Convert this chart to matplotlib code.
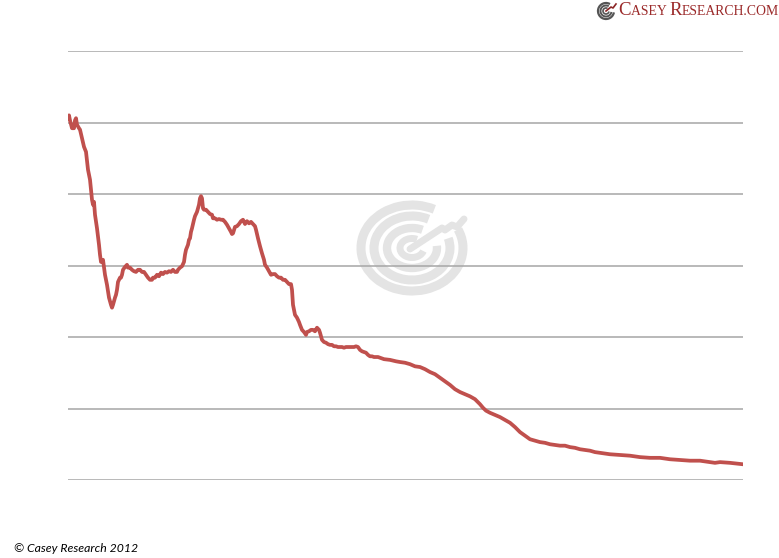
import matplotlib
matplotlib.use("Agg")
import matplotlib.pyplot as plt
import numpy as np
from matplotlib.patches import Arc
from matplotlib.offsetbox import TextArea, HPacker, AnchoredOffsetbox

# ---- data (time index, value) ----
t = [0, 1, 2, 4, 6, 7, 8, 9, 11, 12, 14, 16, 18, 20, 21, 22, 24, 25, 26, 27, 28, 29,
     31, 32, 33, 34, 35, 36, 37, 39, 41, 43, 44, 45, 47, 48, 49, 50, 52, 53, 54, 55,
     57, 59, 60, 62, 64, 66, 68, 70, 72, 74, 76, 78, 80, 82, 84, 85, 87, 89, 91, 93,
     95, 97, 99, 101, 103, 105, 107, 109, 110, 112, 114, 116, 117, 118, 120, 121, 122,
     123, 124, 126, 127, 129, 131, 132, 133, 134, 135, 136, 138, 140, 142, 144, 145,
     147, 149, 151, 153, 155, 157, 159, 161, 163, 164, 165, 167, 169, 171, 173, 175,
     177, 179, 181, 183, 185, 187, 188, 190, 192, 194, 196, 197, 199, 201, 203, 205,
     207, 209, 211, 213, 215, 217, 219, 221, 223, 224, 225, 226, 227, 229, 231, 232,
     234, 236, 238, 239, 241, 243, 245, 247, 249, 251, 252, 254, 256, 258, 260, 262,
     264, 266, 268, 270, 272, 274, 276, 278, 280, 282, 284, 286, 288, 290, 292, 294,
     296, 298, 300, 302, 304, 306, 308, 310, 312, 316, 322, 328, 332, 337, 342, 347,
     352, 357, 362, 367, 372, 377, 382, 387, 392, 397, 402, 407, 412, 415, 418, 422,
     427, 432, 437, 442, 447, 452, 457, 462, 467, 472, 477, 482, 487, 492, 497, 502,
     507, 512, 517, 522, 527, 532, 542, 552, 562, 572, 582, 592, 602, 612, 622, 632,
     642, 647, 652, 662, 675]
values = [50.6, 51.0, 50.3, 49.2, 49.2, 50.3, 50.6, 49.7, 49.2, 49.0, 47.8, 46.6, 45.9,
          43.4, 42.7, 42.0, 39.2, 38.5, 38.9, 37.1, 36.1, 35.2, 32.9, 31.5, 30.5, 30.5,
          30.8, 29.7, 28.7, 27.3, 25.5, 24.5, 24.1, 24.5, 25.5, 25.9, 26.6, 27.7, 28.3,
          28.3, 28.7, 29.4, 29.8, 30.1, 29.7, 29.7, 29.4, 29.2, 29.1, 29.4, 29.4, 29.1,
          29.1, 28.7, 28.3, 28.0, 28.0, 28.3, 28.3, 28.7, 28.5, 29.0, 28.8, 29.1, 29.0,
          29.2, 29.1, 29.4, 29.1, 29.1, 29.4, 29.7, 29.9, 30.5, 31.5, 32.2, 32.9, 33.6,
          33.8, 34.7, 35.2, 36.4, 36.9, 37.5, 38.5, 39.4, 39.7, 39.4, 38.0, 37.8, 37.8,
          37.5, 37.2, 37.1, 36.6, 36.6, 36.4, 36.5, 36.4, 36.4, 36.1, 35.7, 35.2, 34.7,
          34.4, 34.5, 35.4, 35.5, 35.8, 36.2, 36.4, 35.8, 36.2, 35.9, 36.1, 35.8, 35.5,
          35.0, 33.8, 32.7, 31.7, 30.8, 30.1, 29.7, 29.2, 28.7, 28.8, 28.8, 28.5, 28.3,
          28.3, 28.0, 28.0, 27.7, 27.4, 27.4, 26.6, 24.5, 23.8, 23.1, 22.7, 22.1, 21.7,
          21.0, 20.7, 20.3, 20.7, 20.8, 21.0, 21.0, 20.8, 21.3, 21.0, 20.6, 19.6, 19.3,
          19.2, 19.0, 18.9, 18.9, 18.7, 18.7, 18.6, 18.6, 18.6, 18.5, 18.6, 18.6, 18.6,
          18.6, 18.6, 18.7, 18.6, 18.2, 18.0, 17.9, 17.8, 17.5, 17.3, 17.3, 17.2, 17.2,
          17.2, 17.1, 16.9, 16.8, 16.6, 16.5, 16.4, 16.2, 15.9, 15.8, 15.5, 15.1, 14.8,
          14.3, 13.8, 13.3, 12.7, 12.3, 12.0, 11.7, 11.3, 10.6, 10.1, 9.7, 9.4, 9.1, 8.8,
          8.4, 8.0, 7.4, 6.7, 6.2, 5.7, 5.5, 5.3, 5.2, 5.0, 4.9, 4.8, 4.8, 4.6, 4.5, 4.3,
          4.2, 4.1, 3.9, 3.8, 3.6, 3.5, 3.4, 3.2, 3.1, 3.1, 2.9, 2.8, 2.7, 2.7, 2.5, 2.4,
          2.5, 2.4, 2.2]
gridvals = [0, 10, 20, 30, 40, 50, 60]

W, H = 779, 558
fig = plt.figure(figsize=(W / 100, H / 100), dpi=100)
fig.patch.set_facecolor("white")

# overlay axes in pixel coordinates for watermark/logo
ov = fig.add_axes([0, 0, 1, 1], zorder=0)
ov.set_xlim(0, W)
ov.set_ylim(H, 0)
ov.axis("off")

wm_color = "#E4E4E4"
cx, cy = 412, 248
# (rx, ry, width, theta1, theta2) ; y axis inverted -> visual angles mirrored
for rx, ry, lw, th1, th2 in [(51, 43, 6.5, -22, 300), (38, 32, 6.5, -15, 300),
                             (25, 20, 6.0, -5, 300), (12, 9.5, 5.0, 15, 300)]:
    ov.add_patch(Arc((cx, cy), 2 * rx, 2 * ry, theta1=th1, theta2=th2,
                     color=wm_color, lw=lw))
ov.plot([cx - 2, 442, 445, 452, 457, 464], [cy + 1, 228, 230, 225, 227, 219],
        color=wm_color, lw=5, solid_capstyle="round", solid_joinstyle="round")

# small logo icon
ix, iy = 606, 11
for r, lw in [(8, 1.6), (5.5, 1.4), (3, 1.2)]:
    ov.add_patch(Arc((ix, iy), 2 * r, 2 * r, theta1=10, theta2=300, color="#555555", lw=lw))
ov.plot([ix, 611, 613, 616], [iy, 7, 8, 4], color="#8B2525", lw=1.2)

ax = fig.add_axes([68 / W, (H - 480) / H, (743 - 68) / W, (480 - 51) / H], zorder=1)
ax.patch.set_alpha(0)
ax.set_xlim(0, 675)
ax.set_ylim(0, 60)
for g in gridvals:
    ax.axhline(g, color="#A6A6A6", lw=1.1, zorder=1)
ax.plot(t, values, color="#C0504D", lw=2.7, solid_joinstyle="round", zorder=3)
ax.set_xticks([])
ax.set_yticks([])
for s in ax.spines.values():
    s.set_visible(False)

# logo text
red = "#9B2A2A"
parts = [("C", 13.6), ("ASEY ", 9.9), ("R", 13.6), ("ESEARCH.COM", 9.9)]
boxes = [TextArea(s, textprops=dict(color=red, fontsize=fs, family="Liberation Serif"))
         for s, fs in parts]
pack = HPacker(children=boxes, align="baseline", pad=0, sep=0)
ab = AnchoredOffsetbox(loc="upper left", child=pack, frameon=False,
                       bbox_to_anchor=(618 / W, 1 - 2 / H), bbox_transform=fig.transFigure,
                       borderpad=0, pad=0)
fig.add_artist(ab)

fig.text(14 / W, 1 - 552 / H, "© Casey Research 2012", fontsize=8.8, style="italic",
         family="Lato", color="#000000", ha="left", va="baseline")

fig.savefig("out.png", dpi=100, facecolor="white")
